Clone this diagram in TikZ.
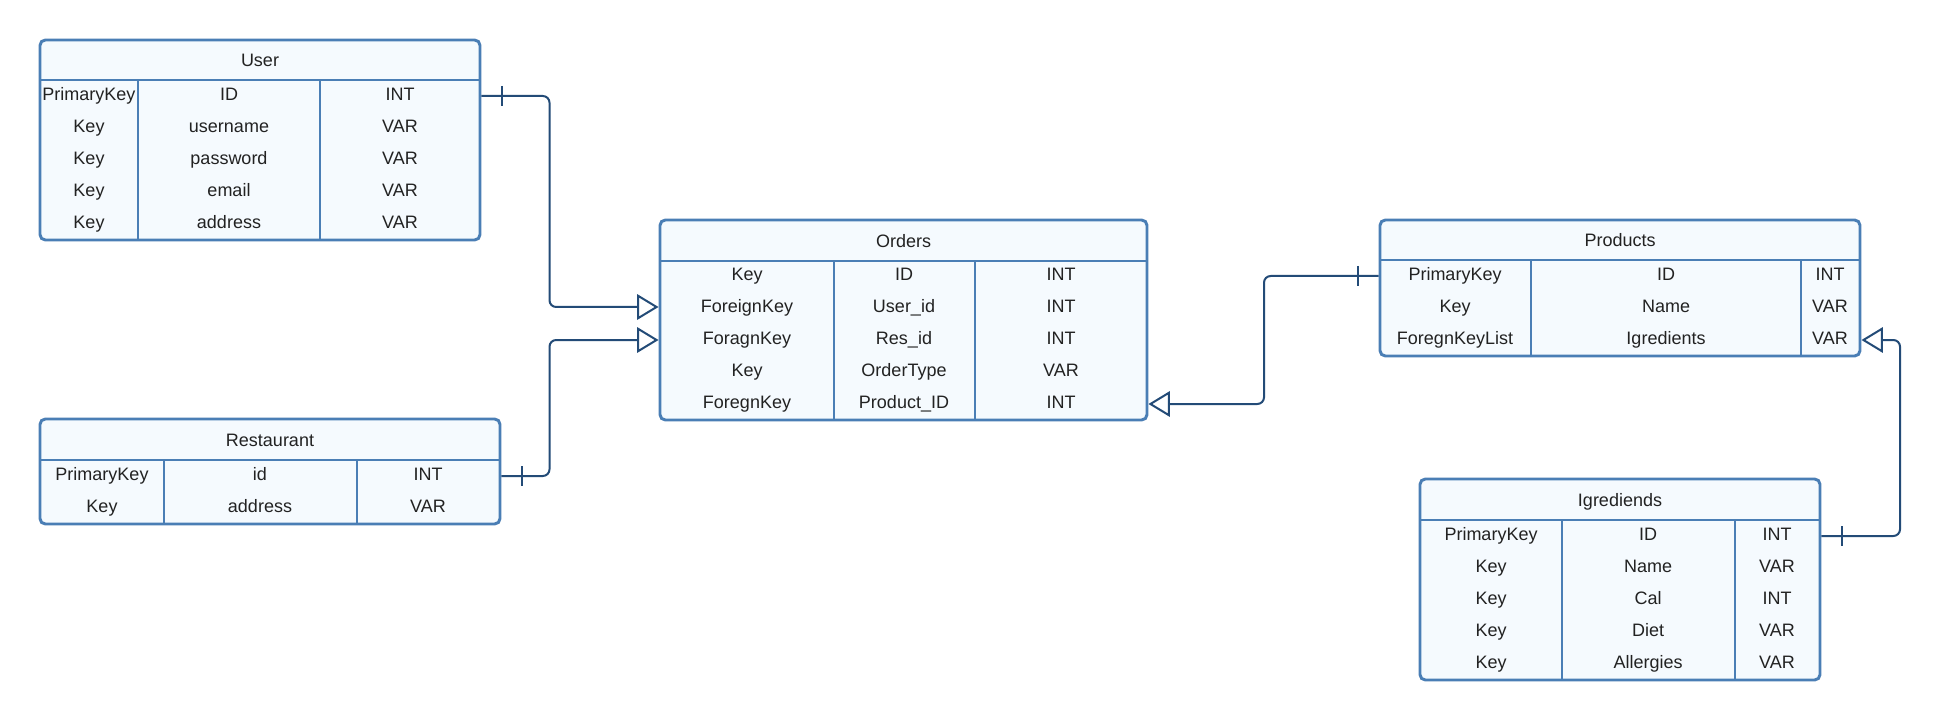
\documentclass[tikz,border=0pt]{standalone}
\usepackage{fontspec}
\setmainfont{Liberation Sans}
\usetikzlibrary{arrows.meta,calc,fit}
\definecolor{boxblue}{HTML}{4A7EB5}
\definecolor{boxfill}{HTML}{F5FAFE}
\definecolor{linkblue}{HTML}{234B77}
\definecolor{txt}{HTML}{222222}
\tikzset{
 tbl/.style={draw=boxblue, fill=boxfill, line width=2.2pt, rounded corners=4pt, inner sep=0pt},
 rule/.style={draw=boxblue, line width=2.2pt},
 cell/.style={text=txt, font=\fontsize{13.5}{16}\selectfont, inner sep=0pt, anchor=center, text height=12pt, text depth=2.2pt},
 link/.style={draw=linkblue, line width=1.5pt, rounded corners=5pt},
 tick/.style={draw=linkblue, line width=1.5pt},
 oneend/.style={-{Triangle[open,length=16pt,width=19pt]}}
}
\newcommand{\ertable}[9]{%
 \node[tbl, fit={(#2,#3) (#4,#5)}] (#1) {};
 \draw[rule] (#2,#6) -- (#4,#6);
 \draw[rule] (#7,#6) -- (#7,#5);
 \draw[rule] (#8,#6) -- (#8,#5);
 \node[cell] (#1title) at ($(#2,#3)!0.5!(#4,#6)$) {#9};
}
\newcommand{\errow}[8]{%
 \node[cell] (#1a) at (#3,#2) {#6};
 \node[cell] (#1b) at (#4,#2) {#7};
 \node[cell] (#1c) at (#5,#2) {#8};
}
\begin{document}
\begin{tikzpicture}[x=0.75pt,y=-0.75pt]
\useasboundingbox (0,0) rectangle (1942,720);
\fill[white] (0,0) rectangle (1942,720);

% User
\ertable{user}{40}{40}{480}{240}{80}{138}{320}{User}
\errow{u1}{94}{89}{229}{400}{PrimaryKey}{ID}{INT}
\errow{u2}{126}{89}{229}{400}{Key}{username}{VAR}
\errow{u3}{158}{89}{229}{400}{Key}{password}{VAR}
\errow{u4}{190}{89}{229}{400}{Key}{email}{VAR}
\errow{u5}{222}{89}{229}{400}{Key}{address}{VAR}

% Restaurant
\ertable{rest}{40}{419}{500}{524}{460}{164}{357}{Restaurant}
\errow{r1}{474}{102}{260}{428}{PrimaryKey}{id}{INT}
\errow{r2}{506}{102}{260}{428}{Key}{address}{VAR}

% Orders
\ertable{orders}{660}{220}{1147}{420}{261}{834}{975}{Orders}
\errow{o1}{274}{747}{904}{1061}{Key}{ID}{INT}
\errow{o2}{306}{747}{904}{1061}{ForeignKey}{User\_id}{INT}
\errow{o3}{338}{747}{904}{1061}{ForagnKey}{Res\_id}{INT}
\errow{o4}{370}{747}{904}{1061}{Key}{OrderType}{VAR}
\errow{o5}{402}{747}{904}{1061}{ForegnKey}{Product\_ID}{INT}

% Products
\ertable{prod}{1380}{220}{1860}{356}{260}{1531}{1801}{Products}
\errow{p1}{274}{1455}{1666}{1830}{PrimaryKey}{ID}{INT}
\errow{p2}{306}{1455}{1666}{1830}{Key}{Name}{VAR}
\errow{p3}{338}{1455}{1666}{1830}{ForegnKeyList}{Igredients}{VAR}

% Igrediends
\ertable{ingr}{1420}{479}{1820}{680}{520}{1562}{1735}{Igrediends}
\errow{i1}{534}{1491}{1648}{1777}{PrimaryKey}{ID}{INT}
\errow{i2}{566}{1491}{1648}{1777}{Key}{Name}{VAR}
\errow{i3}{598}{1491}{1648}{1777}{Key}{Cal}{INT}
\errow{i4}{630}{1491}{1648}{1777}{Key}{Diet}{VAR}
\errow{i5}{662}{1491}{1648}{1777}{Key}{Allergies}{VAR}

% bus lines
\coordinate (busL) at (549.5,0);
\coordinate (busM) at (1264,0);
\coordinate (busR) at (1900,0);

% connectors
\coordinate (A) at ($(user.east |- u1c)+(0,2)$);
\coordinate (B) at ($(orders.west |- o2a)+(0,1)$);
\draw[link, oneend] (A) -- (A -| busL) |- (B);
\draw[tick] ($(A)+(21,-10)$) -- ($(A)+(21,10)$);

\coordinate (C) at ($(rest.east |- r1c)+(0,2)$);
\coordinate (D) at ($(orders.west |- o3a)+(0,2)$);
\draw[link, oneend] (C) -- (C -| busL) |- (D);
\draw[tick] ($(C)+(21,-10)$) -- ($(C)+(21,10)$);

\coordinate (E) at ($(prod.west |- p1a)+(0,2)$);
\coordinate (F) at ($(orders.east |- o5c)+(0,2)$);
\draw[link, oneend] (E) -- (E -| busM) |- (F);
\draw[tick] ($(E)+(-21,-10)$) -- ($(E)+(-21,10)$);

\coordinate (G) at ($(ingr.east |- i1c)+(0,2)$);
\coordinate (H) at ($(prod.east |- p3c)+(0,2)$);
\draw[link, oneend] (G) -- (G -| busR) |- (H);
\draw[tick] ($(G)+(21,-10)$) -- ($(G)+(21,10)$);
\end{tikzpicture}
\end{document}
